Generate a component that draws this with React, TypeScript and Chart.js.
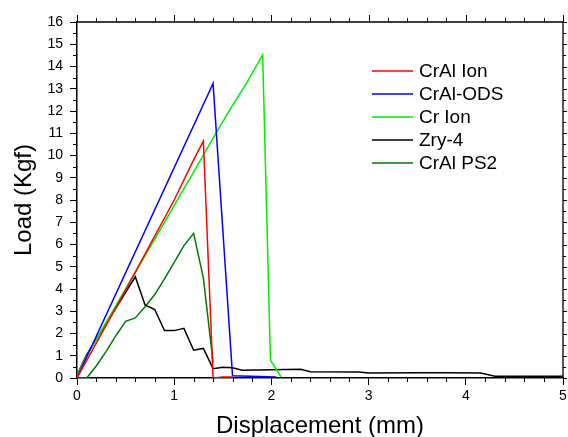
import React, { useEffect, useRef } from "react";
import { Chart, registerables } from "chart.js";

Chart.register(...registerables);

const FONT = "'Liberation Sans', Arial, sans-serif";

const seriesNames = ["CrAl Ion", "CrAl-ODS", "Cr Ion", "Zry-4", "CrAl PS2"];
const seriesColors = ["#ff0000", "#0000ff", "#00ee00", "#000000", "#007800"];

const crAlIonX = [0, 0.5, 1.0, 1.2, 1.3, 1.4, 1.5, 1.6];
const crAlIonY = [0, 3.95, 8.0, 9.8, 10.65, 0, 0.05, 0.05];

const crAlOdsX = [0, 1.4, 1.6, 2.05];
const crAlOdsY = [0, 13.24, 0.1, 0.05];

const crIonX = [0, 0.1, 0.5, 1.0, 1.45, 1.6, 1.75, 1.91, 1.99, 2.1];
const crIonY = [0.1, 1.0, 4.0, 7.75, 11.15, 12.25, 13.3, 14.52, 0.8, 0.05];

const zry4X = [0, 0.1, 0.6, 0.7, 0.8, 0.9, 1.0, 1.1, 1.2, 1.3, 1.4, 1.5, 1.6, 1.7, 2.3, 2.4, 2.9, 3.0, 3.5, 3.8, 4.15, 4.2, 4.3, 5.0];
const zry4Y = [0.13, 1.05, 4.55, 3.28, 3.08, 2.13, 2.13, 2.23, 1.25, 1.33, 0.42, 0.48, 0.46, 0.35, 0.39, 0.28, 0.27, 0.22, 0.24, 0.24, 0.22, 0.18, 0.08, 0.08];

const crAlPs2X = [0, 0.1, 0.2, 0.3, 0.4, 0.5, 0.6, 0.7, 0.8, 0.9, 1.0, 1.1, 1.2, 1.3, 1.4];
const crAlPs2Y = [0, 0, 0.55, 1.2, 1.9, 2.55, 2.7, 3.2, 3.75, 4.45, 5.2, 5.95, 6.5, 4.5, 0.7];

const xMin = 0, xMax = 5, xMinorStep = 0.2;
const yMin = 0, yMax = 16, yMinorStep = 0.5;

const seriesX = [crAlIonX, crAlOdsX, crIonX, zry4X, crAlPs2X];
const seriesY = [crAlIonY, crAlOdsY, crIonY, zry4Y, crAlPs2Y];

const framePlugin = {
  id: "frame",
  afterDatasetsDraw(chart: any) {
    const { ctx, chartArea } = chart;
    const { left, right, top, bottom } = chartArea;
    const xs = chart.scales.x;
    const ys = chart.scales.y;
    ctx.save();
    ctx.strokeStyle = "#000";
    ctx.lineWidth = 1.3;
    ctx.beginPath();
    ctx.moveTo(left, top);
    ctx.lineTo(right, top);
    ctx.lineTo(right, bottom);
    ctx.stroke();
    ctx.lineWidth = 1;
    ctx.beginPath();
    const nx = Math.round((xMax - xMin) / xMinorStep);
    for (let i = 0; i <= nx; i++) {
      const v = xMin + i * xMinorStep;
      const px = Math.round(xs.getPixelForValue(v)) + 0.5;
      const major = Math.abs(v - Math.round(v)) < 1e-6;
      ctx.moveTo(px, top);
      ctx.lineTo(px, top - (major ? 7 : 4));
      if (!major) {
        ctx.moveTo(px, bottom);
        ctx.lineTo(px, bottom + 4);
      }
    }
    const ny = Math.round((yMax - yMin) / yMinorStep);
    for (let i = 0; i <= ny; i++) {
      const v = yMin + i * yMinorStep;
      const py = Math.round(ys.getPixelForValue(v)) + 0.5;
      const major = Math.abs(v - Math.round(v)) < 1e-6;
      ctx.moveTo(right, py);
      ctx.lineTo(right + (major ? 4 : 3), py);
      if (!major) {
        ctx.moveTo(left, py);
        ctx.lineTo(left - 4, py);
      }
    }
    ctx.stroke();

    // legend
    ctx.font = `19px ${FONT}`;
    ctx.textBaseline = "middle";
    ctx.textAlign = "left";
    for (let i = 0; i < seriesNames.length; i++) {
      const y = 71 + 23 * i;
      ctx.strokeStyle = seriesColors[i];
      ctx.lineWidth = 1.5;
      ctx.beginPath();
      ctx.moveTo(372, y);
      ctx.lineTo(413, y);
      ctx.stroke();
      ctx.fillStyle = "#000";
      ctx.fillText(seriesNames[i], 419, y + 1);
    }
    ctx.restore();
  },
};

export default function App() {
  const ref = useRef<HTMLCanvasElement | null>(null);
  useEffect(() => {
    if (!ref.current) return;
    const datasets = seriesNames.map((name, i) => ({
      label: name,
      data: seriesX[i].map((x, j) => ({ x, y: seriesY[i][j] })),
      borderColor: seriesColors[i],
      backgroundColor: seriesColors[i],
      borderWidth: 1.5,
      pointRadius: 0,
      showLine: true,
      fill: false,
      tension: 0,
    }));
    const chart = new Chart(ref.current, {
      type: "scatter",
      data: { datasets },
      plugins: [framePlugin],
      options: {
        animation: false,
        responsive: false,
        maintainAspectRatio: false,
        devicePixelRatio: 1,
        layout: { padding: { top: 22, right: 5, left: 0, bottom: 0 } },
        plugins: { legend: { display: false }, tooltip: { enabled: false } },
        scales: {
          x: {
            type: "linear",
            min: xMin,
            max: xMax,
            afterFit(scale: any) {
              scale.height = 59;
              scale.paddingLeft = 0;
              scale.paddingRight = 0;
            },
            ticks: {
              stepSize: 1,
              autoSkip: false,
              maxRotation: 0,
              padding: 3,
              color: "#000",
              font: { family: FONT, size: 14 },
            },
            grid: { drawOnChartArea: false, drawTicks: true, tickLength: 7, color: "#000", lineWidth: 1 },
            border: { display: true, color: "#000", width: 1.5 },
            title: {
              display: true,
              text: "Displacement (mm)",
              color: "#000",
              font: { family: FONT, size: 24, lineHeight: 0.85 },
              padding: { top: 0, bottom: 0 },
            },
          },
          y: {
            type: "linear",
            min: yMin,
            max: yMax,
            afterFit(scale: any) {
              scale.width = 77;
              scale.paddingTop = 0;
              scale.paddingBottom = 0;
            },
            ticks: {
              stepSize: 1,
              autoSkip: false,
              padding: 7,
              color: "#000",
              font: { family: FONT, size: 14 },
            },
            grid: { drawOnChartArea: false, drawTicks: true, tickLength: 7, color: "#000", lineWidth: 1 },
            border: { display: true, color: "#000", width: 1.5 },
            title: {
              display: true,
              text: "Load (Kgf)",
              color: "#000",
              font: { family: FONT, size: 24 },
              padding: { top: 10, bottom: 0 },
            },
          },
        },
      },
    });
    return () => chart.destroy();
  }, []);
  return (
    <div style={{ position: "fixed", left: 0, top: 0, width: 568, height: 437, background: "#fff" }}>
      <canvas ref={ref} width={568} height={437} style={{ width: 568, height: 437 }} />
    </div>
  );
}
